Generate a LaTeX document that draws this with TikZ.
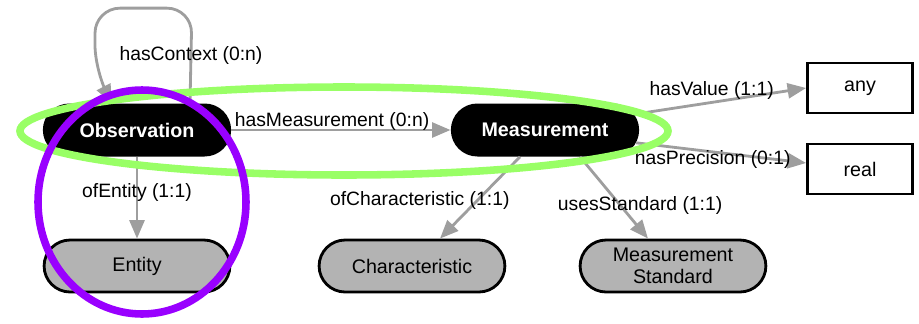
\documentclass[tikz,border=0pt]{standalone}
\usepackage{fontspec}
\setmainfont{Liberation Sans}
\usetikzlibrary{shapes.misc, arrows.meta, positioning}
\definecolor{edgegray}{HTML}{9E9E9E}
\definecolor{pillgray}{HTML}{B3B3B3}
\definecolor{ringgreen}{HTML}{99FF66}
\definecolor{ringpurple}{HTML}{9900FF}
\tikzstyle{mainclass} = [rounded rectangle, minimum width=4cm, minimum height=1.06cm, text centered, fill=black, text=white, font=\fontsize{11.2}{13}\selectfont\bfseries]
\tikzstyle{subclass} = [rounded rectangle, minimum width=3.95cm, minimum height=1.04cm, text centered, align=center, draw=black, line width=1.6pt, fill=pillgray, font=\fontsize{11.2}{12.5}\selectfont]
\tikzstyle{datatype} = [rectangle, minimum width=2.1cm, minimum height=1cm, text centered, draw=black, line width=1.6pt, fill=white, font=\fontsize{11.2}{13}\selectfont]
\tikzstyle{arrow} = [edgegray, line width=1.6pt, -{Triangle[length=0.37cm,width=0.3cm]}]
\tikzstyle{lbl} = [text=black, font=\fontsize{11}{13}\selectfont, inner sep=1pt]
\tikzstyle{ring} = [line width=4.3pt]

\begin{document}
\begin{tikzpicture}[on grid]
    \useasboundingbox (-2.74,-3.86) rectangle (15.64,2.6);

    % Nodes
    \node (obs) [mainclass] {Observation};
    \node (meas) [mainclass, right=8.16cm of obs] {Measurement};
    \node (ent) [subclass, below=2.72cm of obs] {Entity};
    \node (char) [subclass, below left=2.72cm and 2.66cm of meas] {Characteristic};
    \node (std) [subclass, below right=2.72cm and 2.56cm of meas] {Measurement\\Standard};
    \node (any) [datatype, above right=0.84cm and 6.3cm of meas] {any};
    \node (real) [datatype, below right=0.78cm and 6.3cm of meas] {real};

    % Arrows
    \draw [arrow, rounded corners=0.5cm] ([xshift=1.06cm]obs.north) -- ++(0.04,1.9) node[lbl, midway] {hasContext (0:n)} -- ++(-1.94,0) -- ++(0,-1.24) -- ([xshift=-0.5cm]obs.north);
    \draw [arrow] (obs.east) -- (meas.west) node[lbl, midway, above, inner sep=0pt, xshift=-0.18cm, yshift=-1pt] {hasMeasurement (0:n)};
    \draw [arrow] (obs.south) -- (ent.north) node[lbl, pos=0.43] {ofEntity (1:1)};
    \draw [arrow] (meas.10) -- (any.west) node[lbl, pos=0.45, above] {hasValue (1:1)};
    \draw [arrow] (meas.-8) -- ([yshift=0.12cm]real.west) node[lbl, pos=0.45, yshift=-0.16cm] {hasPrecision (0:1)};
    \draw [arrow] ([xshift=-0.5cm]meas.south) -- ([xshift=0.56cm]char.north) node[lbl, pos=0.54, xshift=-1.14cm] {ofCharacteristic (1:1)};
    \draw [arrow] ([xshift=0.7cm]meas.south) -- ([xshift=-0.5cm]std.north) node[lbl, pos=0.59, xshift=0.4cm] {usesStandard (1:1)};

    % Highlight rings
    \draw [ring, ringgreen] (4.14,-0.02) ellipse (6.48cm and 0.88cm);
    \draw [ring, ringpurple] (0.1,-1.44) ellipse (2.08cm and 2.24cm);
\end{tikzpicture}
\end{document}
